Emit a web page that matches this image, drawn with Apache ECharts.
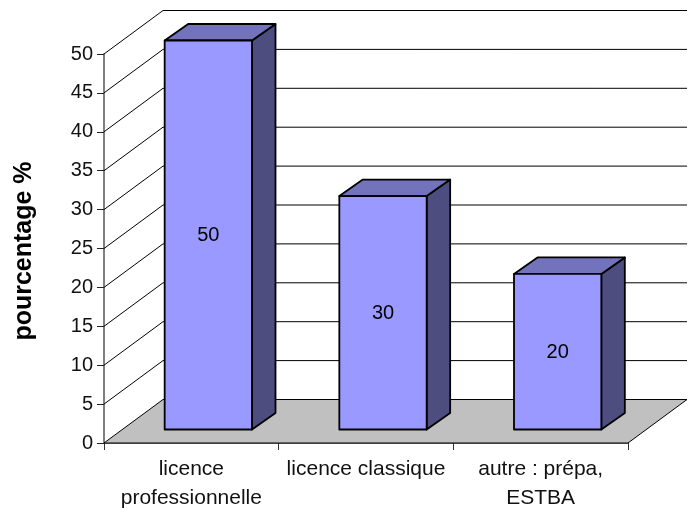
<!DOCTYPE html>
<html>
<head>
<meta charset="utf-8">
<script src="https://cdn.jsdelivr.net/npm/echarts@6/dist/echarts.min.js"></script>
<style>
  html, body { margin: 0; padding: 0; background: #fff; }
  #main { width: 692px; height: 513px; }
</style>
</head>
<body>
<div id="main"></div>
<script>
const categories = ['licence\nprofessionnelle', 'licence classique', 'autre : prépa,\nESTBA'];
const values = [50, 30, 20];
const ticks = [5, 10, 15, 20, 25, 30, 35, 40, 45, 50];

// fake 3d depth, in pixels
const depthX = 59;
const depthY = 43.5;
const barX = 17;
const barY = 13.5;
const barDepthX = 23.5;
const barDepthY = 16.5;

const chart = echarts.init(document.getElementById('main'));

function renderFloor(params, api) {
  const c = params.coordSys;
  const y0 = api.coord([0, 0])[1];
  return {
    type: 'polygon',
    shape: {points: [
      [c.x, y0], [c.x + depthX, y0 - depthY],
      [c.x + c.width + depthX, y0 - depthY], [c.x + c.width, y0]
    ]},
    style: {fill: '#c0c0c0', stroke: '#000', lineWidth: 1}
  };
}

function renderWallLine(params, api) {
  const c = params.coordSys;
  const y = api.coord([0, api.value(1)])[1];
  return {
    type: 'polyline',
    shape: {points: [
      [c.x, y], [c.x + depthX, y - depthY], [c.x + c.width + depthX, y - depthY]
    ]},
    style: {fill: 'none', stroke: '#000', lineWidth: 1}
  };
}

function renderBar(params, api) {
  const top = api.coord([api.value(0), api.value(1)]);
  const base = api.coord([api.value(0), 0]);
  const w = api.size([1, 0])[0] * 0.5;
  const l = top[0] + barX - w / 2;
  const r = l + w;
  const t = top[1] - barY;
  const b = base[1] - barY;
  const edge = {stroke: '#000', lineWidth: 1.8, lineJoin: 'round'};
  return {
    type: 'group',
    children: [
      {
        type: 'polygon',
        shape: {points: [[r, t], [r + barDepthX, t - barDepthY], [r + barDepthX, b - barDepthY], [r, b]]},
        style: Object.assign({fill: '#4d4d80'}, edge)
      },
      {
        type: 'polygon',
        shape: {points: [[l, t], [l + barDepthX, t - barDepthY], [r + barDepthX, t - barDepthY], [r, t]]},
        style: Object.assign({fill: '#7373bb'}, edge)
      },
      {
        type: 'rect',
        shape: {x: l, y: t, width: w, height: b - t},
        style: Object.assign({fill: '#9999ff'}, edge)
      },
      {
        type: 'text',
        style: {
          text: String(api.value(1)),
          x: (l + r) / 2,
          y: (t + b) / 2 + 0.5,
          align: 'center',
          verticalAlign: 'middle',
          fill: '#000',
          font: '20px "Liberation Sans", Arial, sans-serif'
        }
      }
    ]
  };
}

chart.setOption({
  animation: false,
  textStyle: {fontFamily: '"Liberation Sans", Arial, sans-serif'},
  grid: {left: 104, right: 64, top: 54, bottom: 70},
  xAxis: {
    type: 'category',
    data: categories,
    axisLine: {lineStyle: {color: '#808080', width: 2}},
    axisTick: {show: true, length: 7, lineStyle: {color: '#333'}},
    axisLabel: {color: '#111', fontSize: 21, lineHeight: 29, margin: 12, interval: 0}
  },
  yAxis: {
    type: 'value',
    min: 0,
    max: 50,
    interval: 5,
    name: 'pourcentage %',
    nameLocation: 'middle',
    nameRotate: 90,
    nameGap: 67,
    nameTextStyle: {color: '#000', fontSize: 25, fontWeight: 'bold', padding: [0, 5, 0, 0]},
    axisLine: {show: true, lineStyle: {color: '#808080', width: 2}},
    axisTick: {show: true, length: 7, lineStyle: {color: '#222'}},
    axisLabel: {color: '#111', fontSize: 20, margin: 11},
    splitLine: {show: false}
  },
  series: [
    {type: 'custom', z: 1, data: [[0, 0]], renderItem: renderFloor, silent: true},
    {type: 'custom', z: 2, data: ticks.map(t => [0, t]), renderItem: renderWallLine, silent: true},
    {type: 'custom', z: 3, data: values.map((v, i) => [i, v]), renderItem: renderBar, silent: true}
  ]
});
</script>
</body>
</html>
